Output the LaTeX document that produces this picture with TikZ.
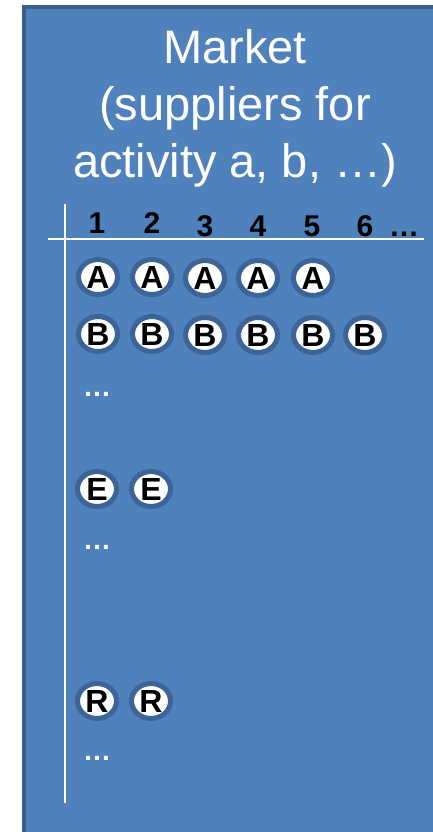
\documentclass[tikz,border=0pt]{standalone}
\usepackage{fontspec}
\setmainfont{Liberation Sans}
\usepackage{tikz}
\usetikzlibrary{shapes.geometric}
\definecolor{panelblue}{HTML}{4F81BD}
\definecolor{paneledge}{HTML}{3B5F8C}
\definecolor{ringblue}{HTML}{3C6496}

\begin{document}
\begin{tikzpicture}[
  x=1pt, y=-1pt,
  supp/.style={ellipse, draw=ringblue, line width=5pt, fill=white, inner sep=0pt,
               minimum width=39pt, minimum height=35pt,
               font=\fontsize{32}{32}\selectfont\bfseries},
  colhead/.style={anchor=base, inner sep=0pt, font=\fontsize{30}{30}\selectfont\bfseries},
  more/.style={anchor=base, inner sep=0pt, text=white, font=\fontsize{28}{28}\selectfont\bfseries},
  axis/.style={draw=white, line width=1.6pt},
]
\clip (0,0) rectangle (433,832);
\fill[white] (0,0) rectangle (433,832);
\draw[fill=panelblue, draw=paneledge, line width=4pt] (24,7) rectangle (450,850);

% title
\node[align=center, text=white, inner sep=0pt, font=\fontsize{47}{57}\selectfont] (title) at (235,108)
  {Market\\(suppliers for\\activity a, b, …)};

% table axes
\coordinate (vtop) at (65,204);
\coordinate (vbot) at (65,803);
\coordinate (hleft) at (48,239);
\coordinate (hright) at (424,239);
\draw[axis] (vtop) -- (vbot);
\draw[axis] (hleft) -- (hright);

% column numbers
\node[colhead] (h1) at (97,233) {1};
\node[colhead] (h2) at (152,233) {2};
\node[colhead] (h3) at (205,236) {3};
\node[colhead] (h4) at (258,236) {4};
\node[colhead] (h5) at (312,236) {5};
\node[colhead] (h6) at (365,236) {6};
\node[colhead] (hdots) at (404,236) {…};

% suppliers
\node[supp] (a1) at (98,277) {A};
\node[supp] (a2) at (152,277) {A};
\node[supp] (a3) at (205,278) {A};
\node[supp] (a4) at (258,278) {A};
\node[supp] (a5) at (313,278) {A};

\node[supp] (b1) at (98,334) {B};
\node[supp] (b2) at (152,334) {B};
\node[supp] (b3) at (205,335) {B};
\node[supp] (b4) at (258,335) {B};
\node[supp] (b5) at (313,335) {B};
\node[supp] (b6) at (365,335) {B};
\node[more] (dotsb) at (97,396) {…};

\node[supp] (e1) at (97,489) {E};
\node[supp] (e2) at (151,489) {E};
\node[more] (dotse) at (97,549) {…};

\node[supp] (r1) at (97,701) {R};
\node[supp] (r2) at (151,701) {R};
\node[more] (dotsr) at (97,760) {…};
\end{tikzpicture}
\end{document}
